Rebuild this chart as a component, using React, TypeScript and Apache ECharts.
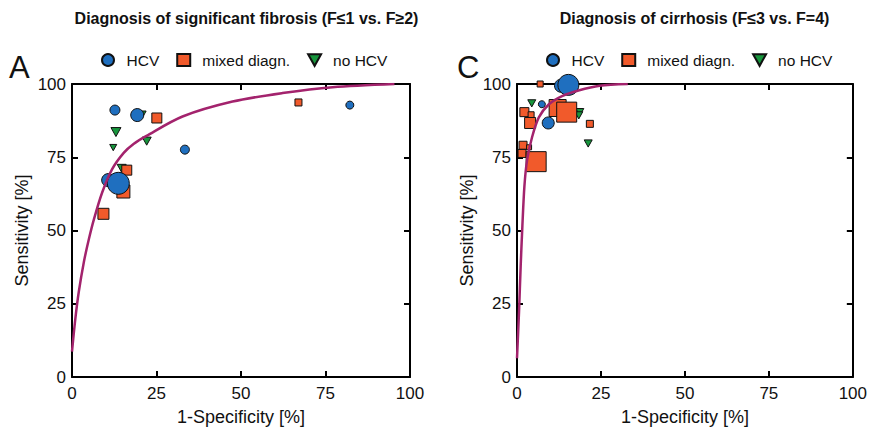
import React, { useEffect, useRef } from "react";
import * as echarts from "echarts";

const xTicks = [0, 25, 50, 75, 100];
const yTicks = [0, 25, 50, 75, 100];

// [1-specificity %, sensitivity %, marker size]
const hcvA = [[12.7, 91.1, 10], [19.3, 89.4, 13], [33.4, 77.6, 9], [82.2, 92.8, 8], [10.7, 67.2, 13], [13.7, 66.1, 22]];
const mixedA = [[25.1, 88.4, 10], [67, 93.7, 7], [16.2, 70.6, 10], [15.2, 63.3, 13], [9.3, 55.7, 11]];
const noHcvA = [[13, 83.6, 10], [12.2, 78.3, 7], [22.1, 80.5, 9], [14.7, 71.2, 9], [20.6, 89.4, 9]];
const curveA = [[0, 8.7], [1, 20], [2, 29], [3.5, 39.2], [5, 47.1], [6.5, 53.9], [8.9, 62.9], [11.8, 70.8], [15.3, 76.5], [18.3, 79.6], [21.9, 82.2], [32.7, 88.9], [47.5, 94], [62.3, 96.9], [77.1, 98.9], [95.4, 100]];

const hcvC = [[13.1, 99.4, 13], [15.3, 99.7, 21], [7.4, 93.1, 7], [9.3, 86.7, 12]];
const mixedC = [[6.9, 100, 6], [12.1, 91.8, 17], [14.8, 90.4, 20], [2.2, 90.4, 9], [4.2, 89.5, 6], [3.9, 86.7, 11], [21.7, 86.4, 7], [1.8, 79.1, 8], [3.6, 78.4, 5], [1.5, 76.3, 8], [5.7, 73.5, 20]];
const noHcvC = [[4.4, 93.4, 8], [18.7, 90.4, 8], [18.4, 89.3, 8], [21.2, 79.7, 8]];
const curveC = [[0, 6.4], [0.6, 22.2], [1.1, 38], [1.6, 51.5], [2.2, 65], [3, 74], [4.5, 81.9], [6.5, 88.6], [9.5, 93.1], [13.4, 95.9], [18.3, 97.8], [24.6, 99.4], [33, 100]];

const FONT = "'Liberation Sans', Arial, sans-serif";
const BLUE = "#1f6fbf";
const ORANGE = "#f15a2b";
const GREEN = "#17963c";
const CURVE = "#a3236d";
const TRI = "path://M0,0L10,0L5,9Z";

function axesFor(gridIndex: number) {
  const common = {
    gridIndex,
    type: "value",
    min: 0,
    max: 100,
    interval: 25,
    splitLine: { show: false },
    axisLine: { show: true, onZero: false, lineStyle: { color: "#000", width: 2 } },
    axisTick: { show: true, inside: true, length: 6, lineStyle: { color: "#000", width: 2 } },
  };
  const x = [
    {
      ...common,
      position: "bottom",
      name: "1-Specificity [%]",
      nameLocation: "middle",
      nameGap: 31,
      nameTextStyle: { fontFamily: FONT, fontSize: 18, color: "#111" },
      axisLabel: { fontFamily: FONT, fontSize: 17, color: "#111", margin: 8, formatter: (v: number) => (xTicks.includes(v) ? String(v) : "") },
    },
    { ...common, position: "top", axisLabel: { show: false } },
  ];
  const y = [
    {
      ...common,
      position: "left",
      name: "Sensitivity [%]",
      nameLocation: "middle",
      nameGap: 41,
      nameTextStyle: { fontFamily: FONT, fontSize: 18, color: "#111" },
      axisLabel: { fontFamily: FONT, fontSize: 17, color: "#111", margin: 6, formatter: (v: number) => (yTicks.includes(v) ? String(v) : "") },
    },
    { ...common, position: "right", axisLabel: { show: false } },
  ];
  return { x, y };
}

function scatter(name: string, data: number[][], symbol: string, color: string, idx: number) {
  return {
    name,
    type: "scatter",
    xAxisIndex: idx * 2,
    yAxisIndex: idx * 2,
    data,
    symbol,
    symbolKeepAspect: true,
    symbolSize: (d: number[]) => d[2],
    clip: false,
    itemStyle: { color, borderColor: "#111", borderWidth: 1, opacity: 1 },
    emphasis: { disabled: true },
  };
}

function curve(name: string, data: number[][], idx: number) {
  return {
    name,
    type: "line",
    xAxisIndex: idx * 2,
    yAxisIndex: idx * 2,
    data,
    smooth: 0.3,
    showSymbol: false,
    lineStyle: { color: CURVE, width: 2.5 },
    z: 5,
    emphasis: { disabled: true },
  };
}

export default function App() {
  const ref = useRef<HTMLDivElement>(null);
  useEffect(() => {
    if (!ref.current) return;
    const chart = echarts.init(ref.current, undefined, { renderer: "svg" });
    const a = axesFor(0);
    const c = axesFor(1);
    const legendBase = {
      data: [
        { name: "HCV", icon: "circle" },
        { name: "mixed diagn.", icon: "rect" },
        { name: "no HCV", icon: TRI },
      ],
      itemWidth: 13,
      itemHeight: 12,
      itemGap: 17,
      selectedMode: false,
      textStyle: { fontFamily: FONT, fontSize: 15.5, color: "#111", padding: [0, 0, 0, 7] },
      top: 47,
    };
    const titleStyle = { fontFamily: FONT, fontSize: 16, fontWeight: "bold", color: "#111" };
    chart.setOption({
      animation: false,
      backgroundColor: "#fff",
      title: [
        { text: "Diagnosis of significant fibrosis (F\u22641 vs. F\u22652)", left: 241.5, top: 5, textAlign: "center", textStyle: titleStyle },
        { text: "Diagnosis of cirrhosis (F\u22643 vs. F=4)", left: 689.5, top: 5, textAlign: "center", textStyle: titleStyle },
        { text: "A", left: 9, top: 52, padding: 0, textStyle: { fontFamily: FONT, fontSize: 31, fontWeight: "normal", color: "#111" } },
        { text: "C", left: 457, top: 52, padding: 0, textStyle: { fontFamily: FONT, fontSize: 31, fontWeight: "normal", color: "#111" } },
      ],
      legend: [
        { ...legendBase, left: 96 },
        { ...legendBase, left: 541 },
      ],
      grid: [
        { left: 72, right: 460, top: 84, bottom: 52 },
        { left: 517, right: 15, top: 84, bottom: 52 },
      ],
      xAxis: [...a.x, ...c.x.map((ax) => ({ ...ax, gridIndex: 1 }))],
      yAxis: [...a.y, ...c.y.map((ax) => ({ ...ax, gridIndex: 1 }))],
      series: [
        scatter("no HCV", noHcvA, TRI, GREEN, 0),
        scatter("mixed diagn.", mixedA, "rect", ORANGE, 0),
        scatter("HCV", hcvA, "circle", BLUE, 0),
        curve("SROC A", curveA, 0),
        scatter("no HCV", noHcvC, TRI, GREEN, 1),
        scatter("mixed diagn.", mixedC, "rect", ORANGE, 1),
        scatter("HCV", hcvC, "circle", BLUE, 1),
        curve("SROC C", curveC, 1),
      ],
    });
    return () => chart.dispose();
  }, []);
  return <div ref={ref} style={{ position: "fixed", left: 0, top: 0, width: 870, height: 431 }} />;
}
